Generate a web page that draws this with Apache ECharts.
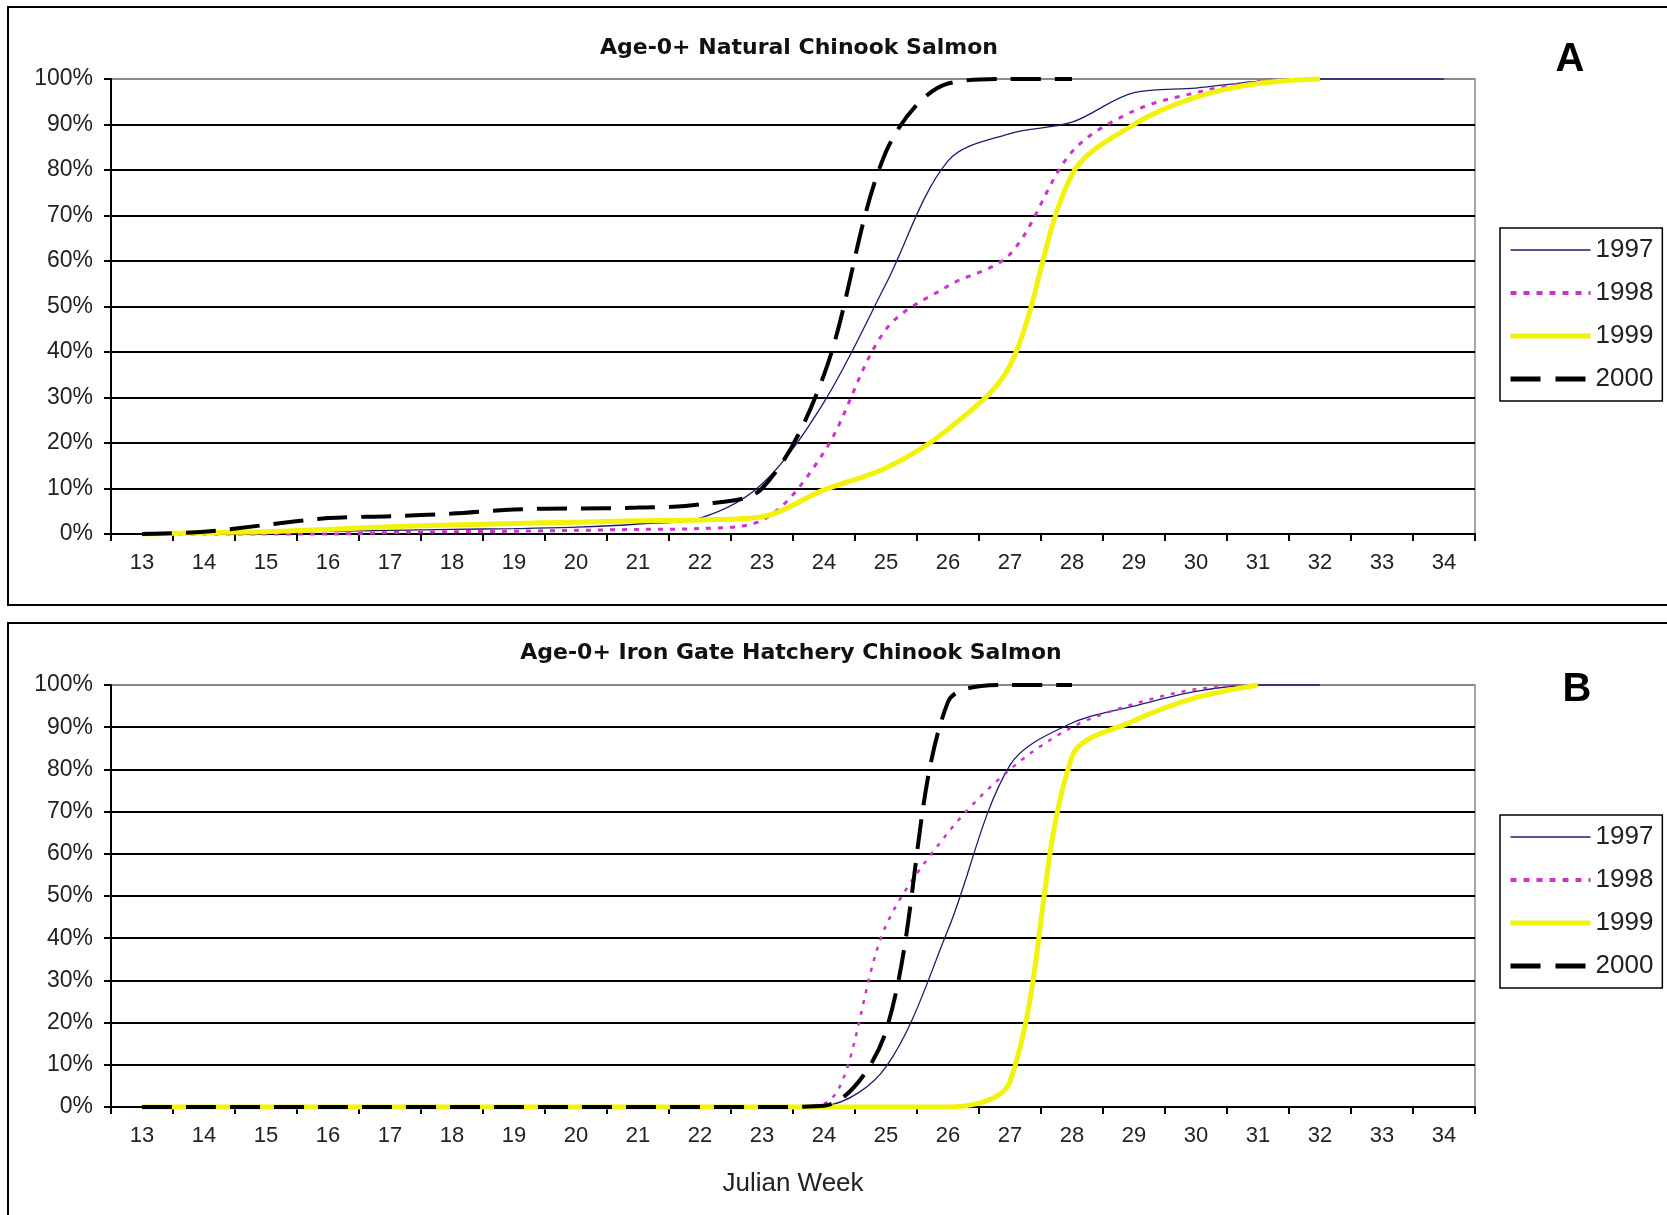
<!DOCTYPE html>
<html>
<head>
<meta charset="utf-8">
<script src="https://cdn.jsdelivr.net/npm/echarts@6/dist/echarts.min.js"></script>
<style>
  html, body { margin: 0; padding: 0; background: #fff; }
  #chart { width: 1667px; height: 1215px; }
</style>
</head>
<body>
<div id="chart"></div>
<script>
// Julian weeks on the category axis
const weeks = ['13','14','15','16','17','18','19','20','21','22','23','24','25','26','27','28','29','30','31','32','33','34'];
const years = ['1997', '1998', '1999', '2000'];

// Cumulative percent passage, age-0+ natural chinook (panel A)
const natural1997 = [0, 0.2, 0.4, 0.6, 0.8, 1.0, 1.2, 1.5, 2.2, 3.5, 11, 29, 55, 82, 88, 90.5, 97, 98, 99.5, 100, 100, 100];
const natural1998 = [0, 0, 0, 0, 0.3, 0.5, 0.6, 0.8, 1.0, 1.2, 3, 18, 45, 54.5, 61.5, 84, 93, 97, 99.5, 100, null, null];
const natural1999 = [0, 0.3, 0.5, 1.0, 1.6, 2.0, 2.3, 2.6, 2.9, 3.1, 3.8, 9.7, 14.5, 23, 37, 79, 90, 96, 99, 100, null, null];
const natural2000 = [0, 0.5, 2, 3.5, 3.9, 4.5, 5.4, 5.6, 5.8, 6.5, 10, 35, 84, 99, 100, 100, null, null, null, null, null, null];

// Cumulative percent passage, age-0+ Iron Gate Hatchery chinook (panel B)
const hatchery1997 = [0, 0, 0, 0, 0, 0, 0, 0, 0, 0, 0, 0.3, 9.5, 42, 81, 91, 95, 98.5, 100, 100, null, null];
const hatchery1998 = [0, 0, 0, 0, 0, 0, 0, 0, 0, 0, 0, 0.8, 43, 65, 80, 90, 95.5, 99, 100, null, null, null];
const hatchery1999 = [0, 0, 0, 0, 0, 0, 0, 0, 0, 0, 0, 0, 0, 0, 6, 83, 91.5, 97, 100, null, null, null];
const hatchery2000 = [0, 0, 0, 0, 0, 0, 0, 0, 0, 0, 0, 0.3, 18, 96, 100, 100, null, null, null, null, null, null];

// Percent gridline ticks
const percentTicks = [0, 10, 20, 30, 40, 50, 60, 70, 80, 90, 100];

const labelFont = 'Liberation Sans, Arial, sans-serif';

const styleA = {
  '1997': { color: '#1c1c70', width: 1.3, type: 'solid' },
  '1998': { color: '#cc33cc', width: 3, type: [5, 7] },
  '1999': { color: '#f2f20a', width: 5, type: 'solid' },
  '2000': { color: '#000000', width: 4, type: [30, 14] }
};
const styleB = {
  '1997': { color: '#1c1c70', width: 1.3, type: 'solid' },
  '1998': { color: '#cc33cc', width: 2.5, type: [4, 7] },
  '1999': { color: '#f2f20a', width: 5, type: 'solid' },
  '2000': { color: '#000000', width: 4, type: [30, 14] }
};

function xAxisFor(gridIndex, withName) {
  const ax = {
    type: 'category',
    gridIndex: gridIndex,
    data: weeks,
    boundaryGap: true,
    axisLine: { lineStyle: { color: '#000', width: 2 } },
    axisTick: { show: true, inside: false, length: 7, lineStyle: { color: '#000', width: 2 } },
    axisLabel: { margin: 18, fontSize: 22, fontFamily: labelFont, color: '#222' },
    splitLine: { show: false }
  };
  if (withName) {
    ax.name = 'Julian Week';
    ax.nameLocation = 'middle';
    ax.nameGap = 64;
    ax.nameTextStyle = { fontSize: 26, fontFamily: labelFont, color: '#222' };
  }
  return ax;
}

function yAxisFor(gridIndex) {
  // gridlines are black, the top (100%) line is the grey plot border
  const lineColors = percentTicks.map(v => (v === 100 ? '#8a8a8a' : '#000'));
  return {
    type: 'value',
    gridIndex: gridIndex,
    min: 0,
    max: 100,
    interval: 10,
    axisLine: { show: true, lineStyle: { color: '#000', width: 2 } },
    axisTick: { show: true, inside: false, length: 7, lineStyle: { color: '#000', width: 2 } },
    axisLabel: { formatter: '{value}%', margin: 18, fontSize: 23, fontFamily: labelFont, color: '#222' },
    splitLine: { show: true, lineStyle: { color: lineColors, width: 2 } }
  };
}

function lineSeries(name, data, gi, style) {
  return {
    name: name,
    type: 'line',
    xAxisIndex: gi,
    yAxisIndex: gi,
    data: data,
    smooth: 0.33,
    symbol: 'none',
    showSymbol: false,
    clip: false,
    lineStyle: { color: style.color, width: style.width, type: style.type },
    itemStyle: { color: style.color },
    emphasis: { disabled: true }
  };
}

// legend keys: line samples keep each year's own stroke width and dash
const legendKeyStyle = {
  '1997': { width: 1.5, type: 'solid' },
  '1998': { width: 4, type: [6, 7] },
  '1999': { width: 5, type: 'solid' },
  '2000': { width: 5, type: [30, 15] }
};

function legendAt(top) {
  return {
    orient: 'vertical',
    left: 1500,
    top: top,
    data: years.map(y => ({ name: y, lineStyle: legendKeyStyle[y] })),
    itemWidth: 80,
    itemHeight: 14,
    itemGap: 17,
    padding: [9, 9, 9, 8],
    borderColor: '#000',
    borderWidth: 1.5,
    selectedMode: false,
    itemStyle: { opacity: 0 },
    textStyle: { fontSize: 26, fontFamily: labelFont, color: '#222' }
  };
}

const naturalSets = [natural1997, natural1998, natural1999, natural2000];
const hatcherySets = [hatchery1997, hatchery1998, hatchery1999, hatchery2000];

const series = [];
years.forEach((y, i) => series.push(lineSeries(y, naturalSets[i], 0, styleA[y])));
years.forEach((y, i) => series.push(lineSeries(y, hatcherySets[i], 1, styleB[y])));

const titleStyle = { fontFamily: 'DejaVu Sans', fontWeight: 'bold', fontSize: 22, fill: '#111', align: 'center', verticalAlign: 'middle' };

const option = {
  animation: false,
  backgroundColor: '#ffffff',
  grid: [
    { left: 111, top: 79, width: 1364, height: 455, show: true, borderColor: '#8a8a8a', borderWidth: 1.5, backgroundColor: 'transparent' },
    { left: 111, top: 685, width: 1364, height: 422, show: true, borderColor: '#8a8a8a', borderWidth: 1.5, backgroundColor: 'transparent' }
  ],
  xAxis: [xAxisFor(0, false), xAxisFor(1, true)],
  yAxis: [yAxisFor(0), yAxisFor(1)],
  legend: [legendAt(228), legendAt(815)],
  series: series,
  graphic: [
    { type: 'rect', z: -10, shape: { x: 8, y: 7, width: 1700, height: 598 }, style: { fill: 'none', stroke: '#000', lineWidth: 2 } },
    { type: 'rect', z: -10, shape: { x: 8, y: 623, width: 1700, height: 640 }, style: { fill: 'none', stroke: '#000', lineWidth: 2 } },
    { type: 'text', x: 799, y: 48, style: Object.assign({ text: 'Age-0+ Natural Chinook Salmon' }, titleStyle) },
    { type: 'text', x: 791, y: 653, style: Object.assign({ text: 'Age-0+ Iron Gate Hatchery Chinook Salmon' }, titleStyle) },
    { type: 'text', x: 1570, y: 60, style: { text: 'A', fontFamily: labelFont, fontWeight: 'bold', fontSize: 40, fill: '#000', align: 'center', verticalAlign: 'middle' } },
    { type: 'text', x: 1577, y: 690, style: { text: 'B', fontFamily: labelFont, fontWeight: 'bold', fontSize: 40, fill: '#000', align: 'center', verticalAlign: 'middle' } }
  ]
};

const chart = echarts.init(document.getElementById('chart'), null, { renderer: 'canvas' });
chart.setOption(option);
</script>
</body>
</html>
